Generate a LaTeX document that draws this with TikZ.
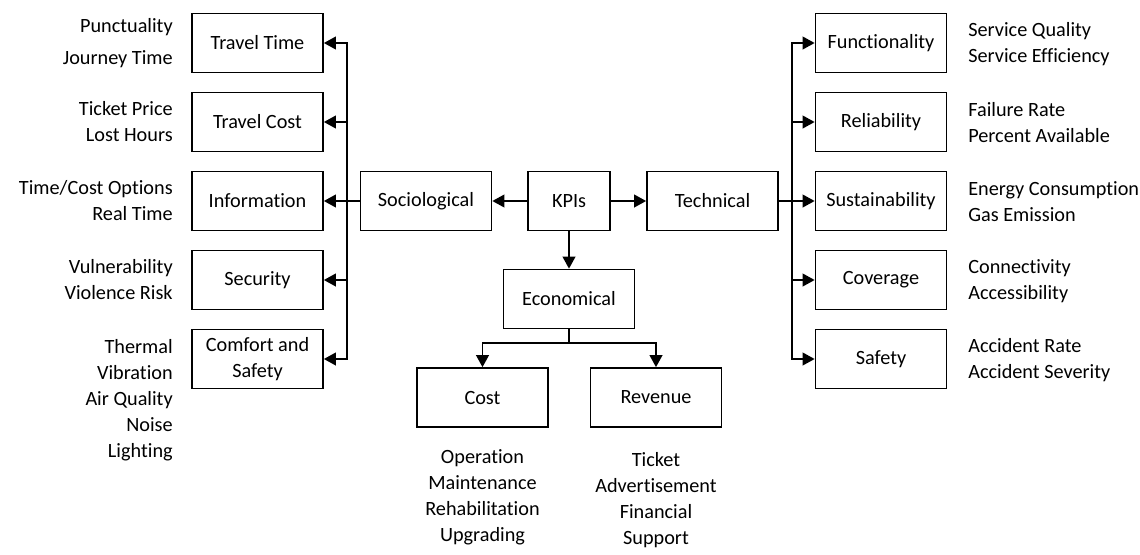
\documentclass[tikz,border=0pt]{standalone}
\usepackage{fontspec}
\setmainfont{Carlito}[Ligatures={NoCommon,NoContextual}]
\usetikzlibrary{arrows.meta}

\begin{document}
\begin{tikzpicture}[x=0.025cm, y=-0.025cm,
		every node/.style={font=\fontsize{14.4}{18.5}\selectfont},
		box/.style={draw, line width=1.2pt, minimum width=3.275cm, minimum height=1.475cm, inner sep=0pt, align=center},
		lbl/.style={inner sep=0pt},
		line/.style={line width=1.2pt},
		arr/.style={line width=1.2pt, -{Triangle[length=8.5pt,width=9pt]}}]
		\useasboundingbox (0,0) rectangle (1140,554);
		% Top level
		\node[box, minimum width=2.05cm] (kpi) at (569,201) {KPIs};
		\node[box] (soc) at (426,201) {Sociological};
		\node[box] (tec) at (712.5,201) {Technical};
		\node[box] (eco) at (569,299) {Economical};
		\node[box] (cost) at (482.5,397.5) {Cost};
		\node[box] (rev) at (656,397.5) {Revenue};
		% Sociological indicators
		\node[box] (ttime) at (257.5,43) {Travel Time};
		\node[box] (tcost) at (257.5,122) {Travel Cost};
		\node[box] (info) at (257.5,201) {Information};
		\node[box] (secu) at (257.5,280) {Security};
		\node[box] (comf) at (257.5,359) {Comfort and\\Safety};
		% Technical indicators
		\node[box] (func) at (881,43) {Functionality};
		\node[box] (reli) at (881,122) {Reliability};
		\node[box] (sust) at (881,201) {Sustainability};
		\node[box] (cove) at (881,280) {Coverage};
		\node[box] (safe) at (881,359) {Safety};
		% Sub-indicators
		\node[lbl, anchor=east, align=right] (ttime-l) at (173,43) {Punctuality\\[4pt]Journey Time};
		\node[lbl, anchor=east, align=right] (tcost-l) at (173,122) {Ticket Price\\Lost Hours};
		\node[lbl, anchor=east, align=right] (info-l) at (173,201) {Time/Cost Options\\Real Time};
		\node[lbl, anchor=east, align=right] (secu-l) at (173,280) {Vulnerability\\Violence Risk};
		\node[lbl, anchor=east, align=right] (comf-l) at (173,400) {Thermal\\Vibration\\Air Quality\\Noise\\Lighting};
		\node[lbl, anchor=west, align=left] (func-l) at (968,44) {Service Quality\\Service Efficiency};
		\node[lbl, anchor=west, align=left] (reli-l) at (968,123) {Failure Rate\\Percent Available};
		\node[lbl, anchor=west, align=left] (sust-l) at (968,202) {Energy Consumption\\Gas Emission};
		\node[lbl, anchor=west, align=left] (cove-l) at (968,281) {Connectivity\\Accessibility};
		\node[lbl, anchor=west, align=left] (safe-l) at (968,360) {Accident Rate\\Accident Severity};
		\node[lbl, align=center] (cost-l) at (482.5,497) {Operation\\Maintenance\\Rehabilitation\\Upgrading};
		\node[lbl, align=center] (rev-l) at (656,500) {Ticket\\Advertisement\\Financial\\Support};
		% Connectors
		\coordinate (lbus) at (347,201);
		\coordinate (rbus) at (792,201);
		\coordinate (ebr) at (569,343);
		\draw[arr] (kpi.west) -- (soc.east);
		\draw[arr] (kpi.east) -- (tec.west);
		\draw[arr] (kpi.south) -- (eco.north);
		\draw[line] (soc.west) -- (lbus);
		\draw[arr] (lbus) |- (ttime.east);
		\draw[arr] (lbus) |- (tcost.east);
		\draw[arr] (lbus) -- (info.east);
		\draw[arr] (lbus) |- (secu.east);
		\draw[arr] (lbus) |- (comf.east);
		\draw[line] (tec.east) -- (rbus);
		\draw[arr] (rbus) |- (func.west);
		\draw[arr] (rbus) |- (reli.west);
		\draw[arr] (rbus) -- (sust.west);
		\draw[arr] (rbus) |- (cove.west);
		\draw[arr] (rbus) |- (safe.west);
		\draw[line] (eco.south) -- (ebr);
		\draw[arr] (ebr) -| (cost.north);
		\draw[arr] (ebr) -| (rev.north);
	\end{tikzpicture}
\end{document}
